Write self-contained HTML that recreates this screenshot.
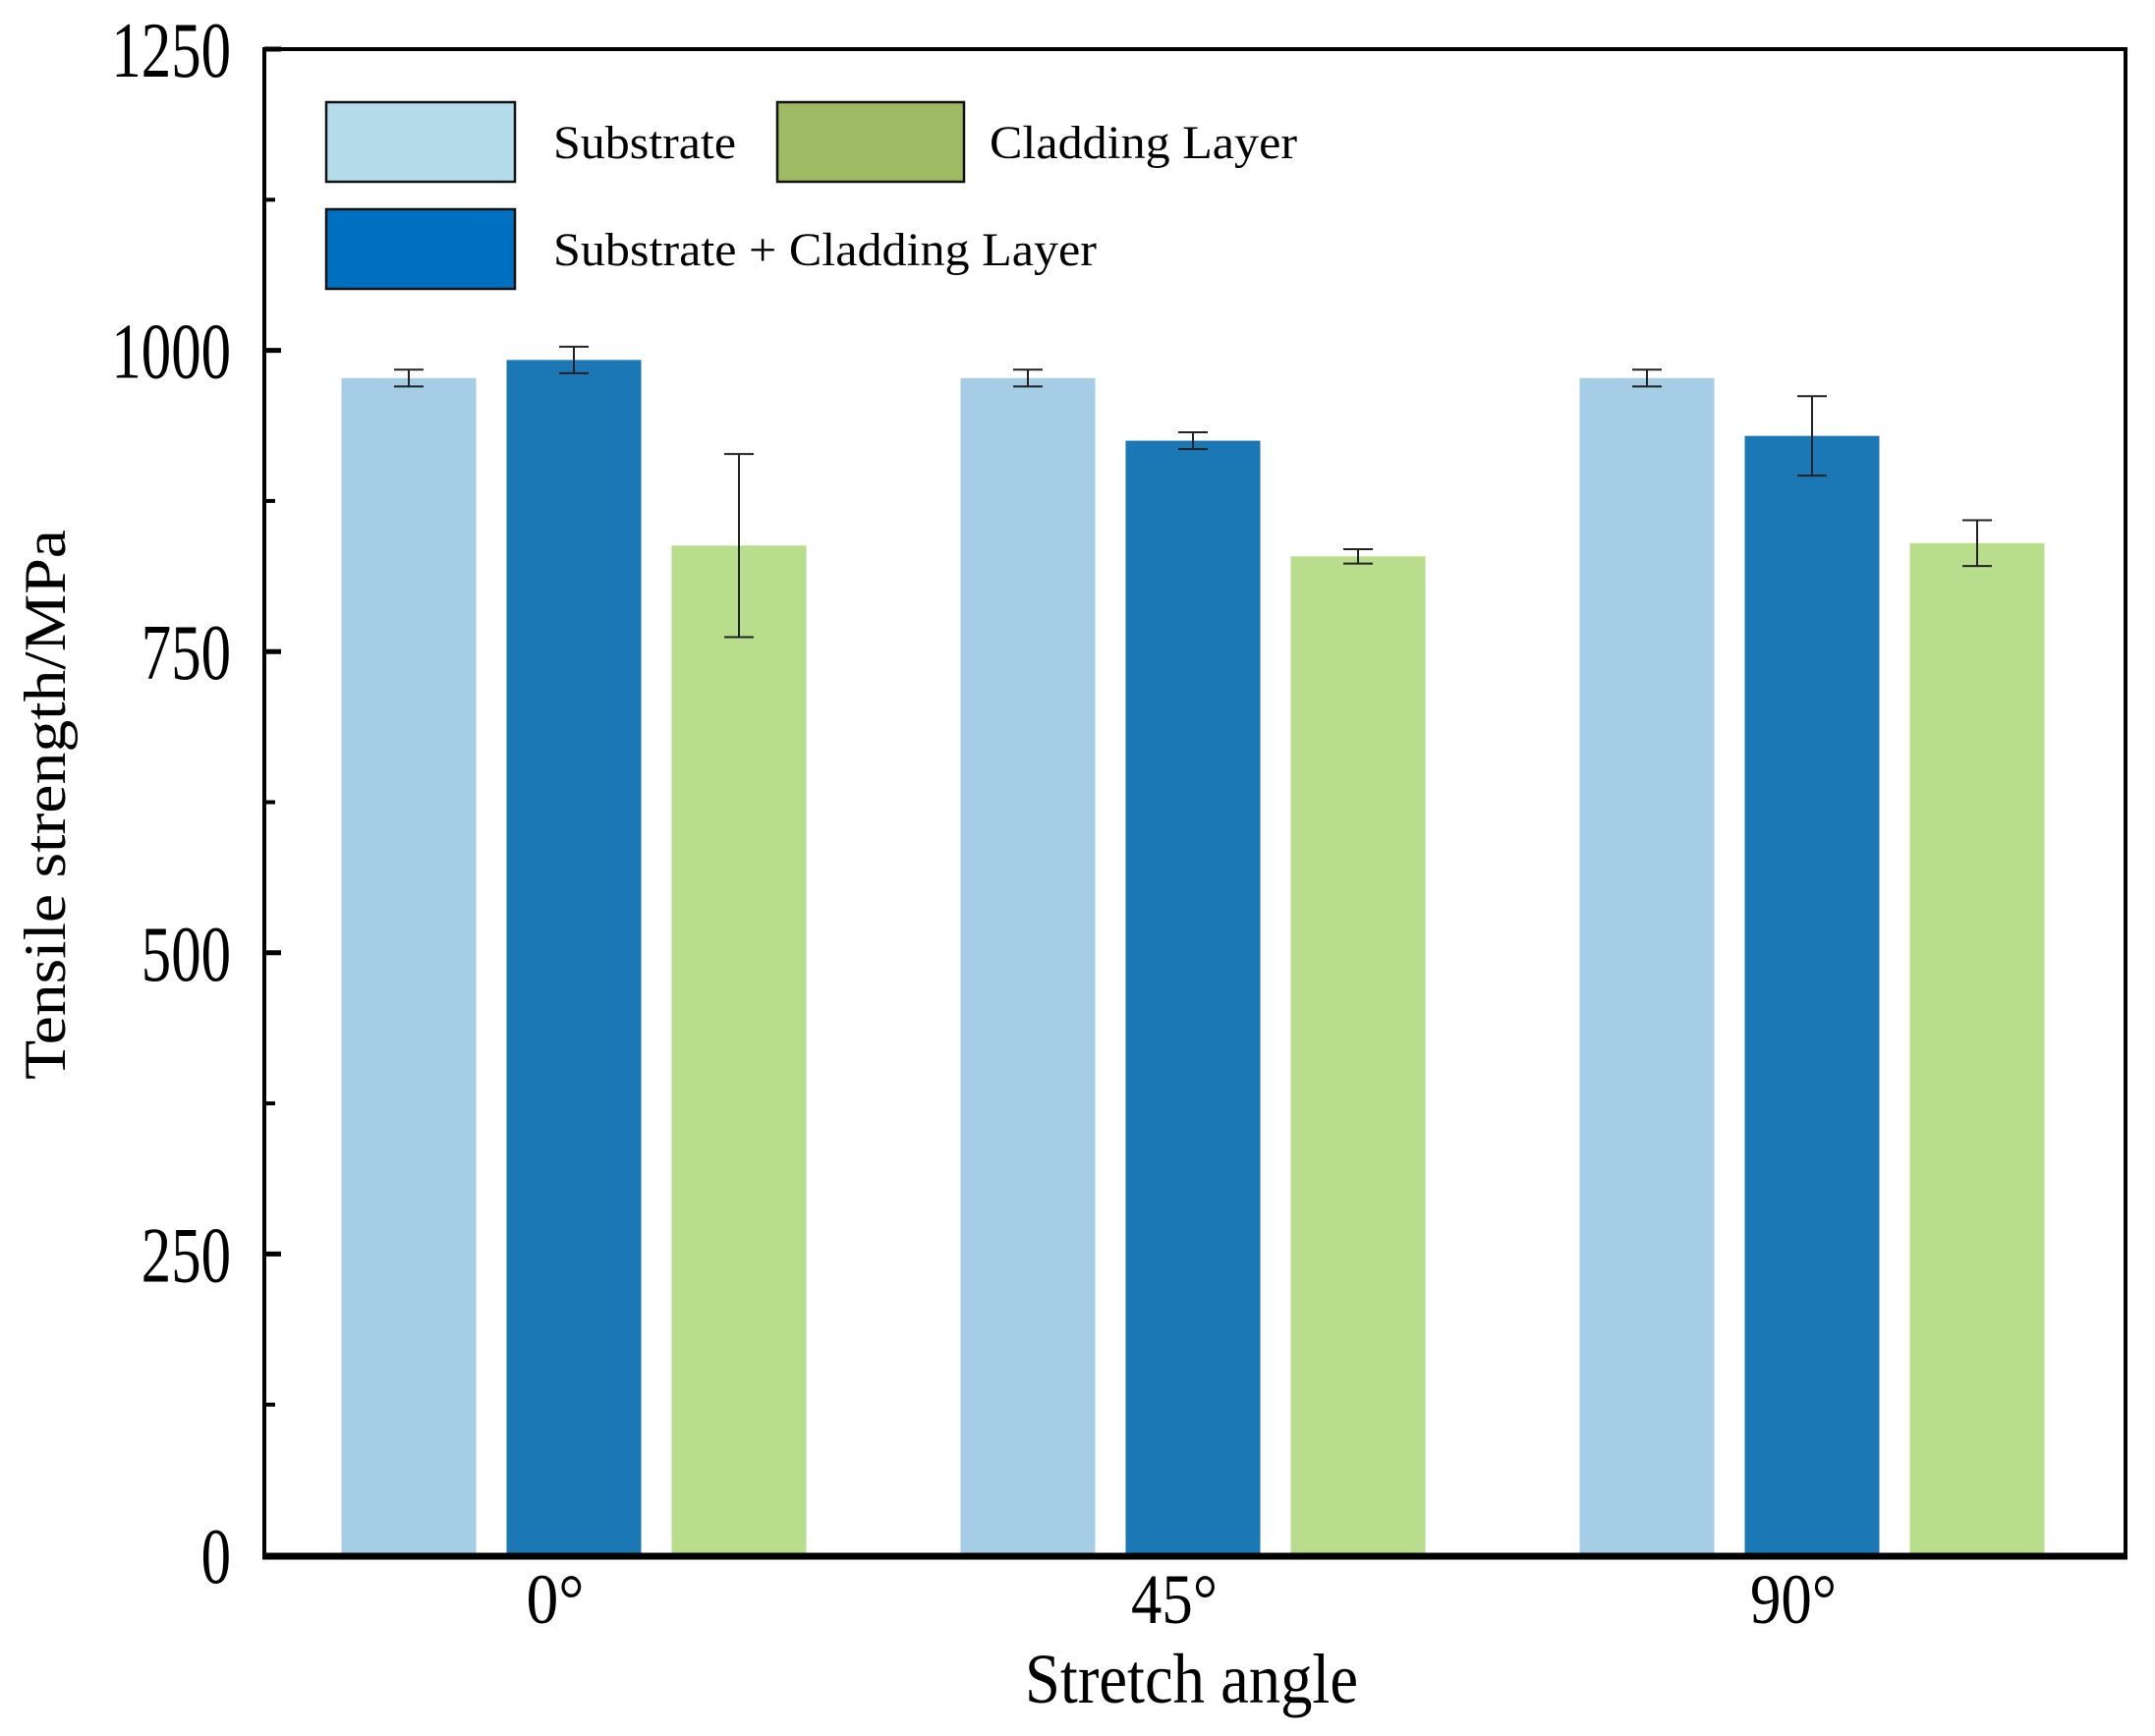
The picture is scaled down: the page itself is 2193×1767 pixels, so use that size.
<!DOCTYPE html>
<html><head><meta charset="utf-8"><style>
html,body{margin:0;padding:0;background:#fff;}
svg{display:block;font-family:"Liberation Serif",serif;}
</style></head><body>
<svg id="chart" width="2193" height="1767" viewBox="0 0 2193 1767" xmlns="http://www.w3.org/2000/svg">
<rect width="2193" height="1767" fill="#fff"/>
<g id="bars"></g>
<g id="axes"></g>
<g id="legend">
  <rect x="332" y="104" width="192" height="81" fill="#b5dcea" stroke="#111" stroke-width="2.5"/>
  <text x="563" y="161" font-size="48" textLength="186" lengthAdjust="spacingAndGlyphs">Substrate</text>
  <rect x="791" y="104" width="190" height="81" fill="#9eba63" stroke="#111" stroke-width="2.5"/>
  <text x="1007" y="161" font-size="48" textLength="313" lengthAdjust="spacingAndGlyphs">Cladding Layer</text>
  <rect x="332" y="213" width="192" height="81" fill="#0070c0" stroke="#111" stroke-width="2.5"/>
  <text x="563" y="270" font-size="48" textLength="553" lengthAdjust="spacingAndGlyphs">Substrate + Cladding Layer</text>
</g>
</svg>
<script>
const categories = ["0°", "45°", "90°"];
const seriesNames = ["Substrate", "Substrate + Cladding Layer", "Cladding Layer"];
const substrate = [977, 977, 977];
const combined = [992, 925, 929];
const cladding = [838, 829, 840];
const substrateErr = [7, 7, 7];
const combinedErr = [11, 7, 33];
const claddingErr = [76, 6, 19];
const yTicks = [0, 250, 500, 750, 1000, 1250];
const yMinorTicks = [125, 375, 625, 875, 1125];

const NS = "http://www.w3.org/2000/svg";
const L = 269, R = 2163, T = 50, B = 1583, YMAX = 1250;
function y(v){ return B - v / YMAX * (B - T); }
function xc(i){ return 584 + 630 * i; }
const offsets = [-168, 0, 168];
const barW = 137;
const colors = ["#a6cde6", "#1b78b5", "#b8de8c"];
const seriesVals = [substrate, combined, cladding];
const seriesErrs = [substrateErr, combinedErr, claddingErr];
const seriesKeys = ["substrate", "combined", "cladding"];

function mk(tag, attrs, parent){
  const e = document.createElementNS(NS, tag);
  for (const k in attrs) e.setAttribute(k, attrs[k]);
  parent.appendChild(e);
  return e;
}
const barsG = document.getElementById("bars");
const axesG = document.getElementById("axes");

for (let s = 0; s < 3; s++) {
  for (let i = 0; i < categories.length; i++) {
    const v = seriesVals[s][i], err = seriesErrs[s][i];
    const cx = xc(i) + offsets[s];
    const r = mk("rect", {x: cx - barW/2, y: y(v), width: barW, height: B - y(v), fill: colors[s]}, barsG);
    
    
    const eg = mk("g", {stroke: "#222", "stroke-width": 2}, barsG);
    
    
    mk("line", {x1: cx, x2: cx, y1: y(v + err), y2: y(v - err)}, eg);
    mk("line", {x1: cx - 15, x2: cx + 15, y1: y(v + err), y2: y(v + err)}, eg);
    mk("line", {x1: cx - 15, x2: cx + 15, y1: y(v - err), y2: y(v - err)}, eg);
  }
}

const fr = mk("rect", {x: L, y: T, width: R - L, height: B - T, fill: "none", stroke: "#000", "stroke-width": 4}, axesG);


const xa = mk("line", {x1: L - 2, x2: R + 2, y1: B + 1, y2: B + 1, stroke: "#000", "stroke-width": 7}, axesG);



yTicks.forEach(t => {
  const ln = mk("line", {x1: L, x2: L + 17, y1: y(t), y2: y(t), stroke: "#000", "stroke-width": 5}, axesG);
  
  
  const tx = mk("text", {x: 235, y: y(t) + 28, "font-size": 80, "text-anchor": "end", transform: "translate(235 0) scale(0.76 1) translate(-235 0)"}, axesG);
  tx.textContent = String(t);
  
  
});
yMinorTicks.forEach(t => {
  const ln = mk("line", {x1: L, x2: L + 11, y1: y(t), y2: y(t), stroke: "#000", "stroke-width": 4}, axesG);
  
  
});
const xLens = [59, 88, 88];
categories.forEach((c, i) => {
  const cx = xc(i) - 19;
  const tx = mk("text", {x: cx, y: 1652, "font-size": 72, "text-anchor": "middle", textLength: xLens[i], lengthAdjust: "spacingAndGlyphs"}, axesG);
  tx.textContent = c;
  
  
});
const xt = mk("text", {x: 1043, y: 1733, "font-size": 72, textLength: 339, lengthAdjust: "spacingAndGlyphs"}, axesG);
xt.textContent = "Stretch angle";


const yt = mk("text", {x: 0, y: 0, "font-size": 60, "text-anchor": "middle", textLength: 560, lengthAdjust: "spacingAndGlyphs", transform: "translate(66 819) rotate(-90)"}, axesG);
yt.textContent = "Tensile strength/MPa";


</script>
</body></html>
